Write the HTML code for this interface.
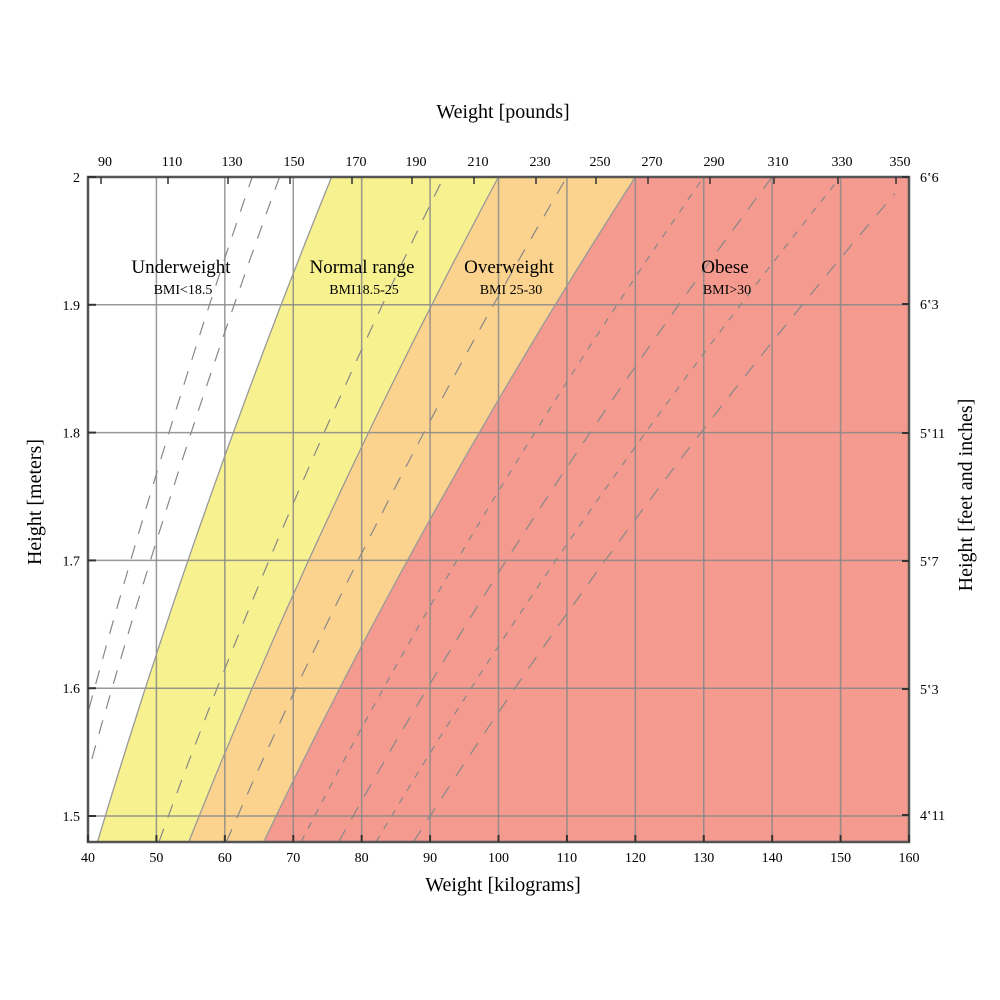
<!DOCTYPE html>
<html><head><meta charset="utf-8"><style>
html,body{margin:0;padding:0;background:#fff;}
svg{display:block;font-family:"Liberation Serif",serif;}
</style></head><body>
<svg id="s" width="1000" height="1000" viewBox="0 0 1000 1000" xmlns="http://www.w3.org/2000/svg">
<g id="g"></g>
</svg>
<script>
var NS="http://www.w3.org/2000/svg";
var g=document.getElementById("g");
function X(kg){return 88+(kg-40)*6.8417;}
function Y(h){return 177+(2-h)*1278;}
var H0=1.4797,H1=2.0;
function el(t,a,txt){var e=document.createElementNS(NS,t);for(var k in a)e.setAttribute(k,a[k]);if(txt!==undefined)e.textContent=txt;g.appendChild(e);return e;}
function curve(b){var p=[];for(var i=0;i<=40;i++){var h=H0+(H1-H0)*i/40;var x=X(b*h*h);p.push([x,Y(h)]);}return p;}
function clipx(p){return p.map(function(q){return [Math.max(88,Math.min(909,q[0])),q[1]];});}
el("rect",{x:88,y:177,width:821,height:665,fill:"#ffffff"});
function region(b,col){var p=clipx(curve(b));var s="M909,842 ";p.forEach(function(q){s+="L"+q[0].toFixed(1)+","+q[1].toFixed(1)+" ";});s+="L909,177 Z";el("path",{d:s,fill:col});}
region(18.9,"#f7f28f");region(25,"#fcd38e");region(30,"#f49a8f");
for(var k=50;k<160;k+=10)el("line",{x1:X(k),y1:177,x2:X(k),y2:842,stroke:"#888",'stroke-width':1.5,opacity:0.85});
[1.5,1.6,1.7,1.8,1.9].forEach(function(h){el("line",{x1:88,y1:Y(h),x2:909,y2:Y(h),stroke:"#888",'stroke-width':1.5,opacity:0.85});});
function line(b,dash,w,col){var p=curve(b).filter(function(q){return q[0]>=88&&q[0]<=909;});if(p.length<2)return;var s="M"+p.map(function(q){return q[0].toFixed(1)+","+q[1].toFixed(1);}).join(" L");var a={d:s,fill:"none",stroke:col,'stroke-width':w};if(dash)a['stroke-dasharray']=dash;el("path",a);}
[18.9,25,30].forEach(function(b){line(b,null,1.3,"#999");});
[[16,"14,12"],[17,"14,12"],[23,"14,12"],[27.5,"14,12"],[32.5,"7,8"],[35,"14,12"],[37.5,"7,8"],[40,"14,12"]].forEach(function(a){line(a[0],a[1],1.2,"#888");});
el("rect",{x:88,y:177,width:821,height:665,fill:"none",stroke:"#555",'stroke-width':2.5});
for(var k=40;k<=160;k+=10){el("line",{x1:X(k),y1:842,x2:X(k),y2:835,stroke:"#333",'stroke-width':2});el("text",{x:X(k),y:862,'font-size':14,'text-anchor':'middle'},String(k));}
var lb=[[90,105],[110,172],[130,232],[150,294],[170,356],[190,416],[210,478],[230,540],[250,600],[270,652],[290,714],[310,778],[330,842],[350,900]];
lb.forEach(function(a){el("text",{x:a[1],y:166,'font-size':14,'text-anchor':'middle'},String(a[0]));el("line",{x1:a[1]-4,y1:177,x2:a[1]-4,y2:184,stroke:"#333",'stroke-width':1.5});});
[[2,"2"],[1.9,"1.9"],[1.8,"1.8"],[1.7,"1.7"],[1.6,"1.6"],[1.5,"1.5"]].forEach(function(a){el("text",{x:80,y:Y(a[0])+5,'font-size':14,'text-anchor':'end'},a[1]);el("line",{x1:88,y1:Y(a[0]),x2:96,y2:Y(a[0]),stroke:"#333",'stroke-width':2});});
[[177,"6‛6"],[304,"6‛3"],[433,"5‛11"],[561,"5‛7"],[689,"5‛3"],[815,"4‛11"]].forEach(function(a){el("text",{x:920,y:a[0]+5,'font-size':14},a[1]);el("line",{x1:902,y1:a[0],x2:909,y2:a[0],stroke:"#333",'stroke-width':2});});
el("text",{x:503,y:118,'font-size':20,'text-anchor':'middle'},"Weight [pounds]");
el("text",{x:503,y:891,'font-size':20,'text-anchor':'middle'},"Weight [kilograms]");
el("text",{x:0,y:0,'font-size':20,'text-anchor':'middle',transform:"translate(41,502) rotate(-90)"},"Height [meters]");
el("text",{x:0,y:0,'font-size':20,'text-anchor':'middle',transform:"translate(972,495) rotate(-90)"},"Height [feet and inches]");
[[181,"Underweight","BMI<18.5"],[362,"Normal range","BMI18.5-25"],[509,"Overweight","BMI 25-30"],[725,"Obese","BMI>30"]].forEach(function(a){el("text",{x:a[0],y:273,'font-size':19,'text-anchor':'middle'},a[1]);el("text",{x:a[0]+2,y:294,'font-size':14,'text-anchor':'middle'},a[2]);});
</script>
</body></html>
